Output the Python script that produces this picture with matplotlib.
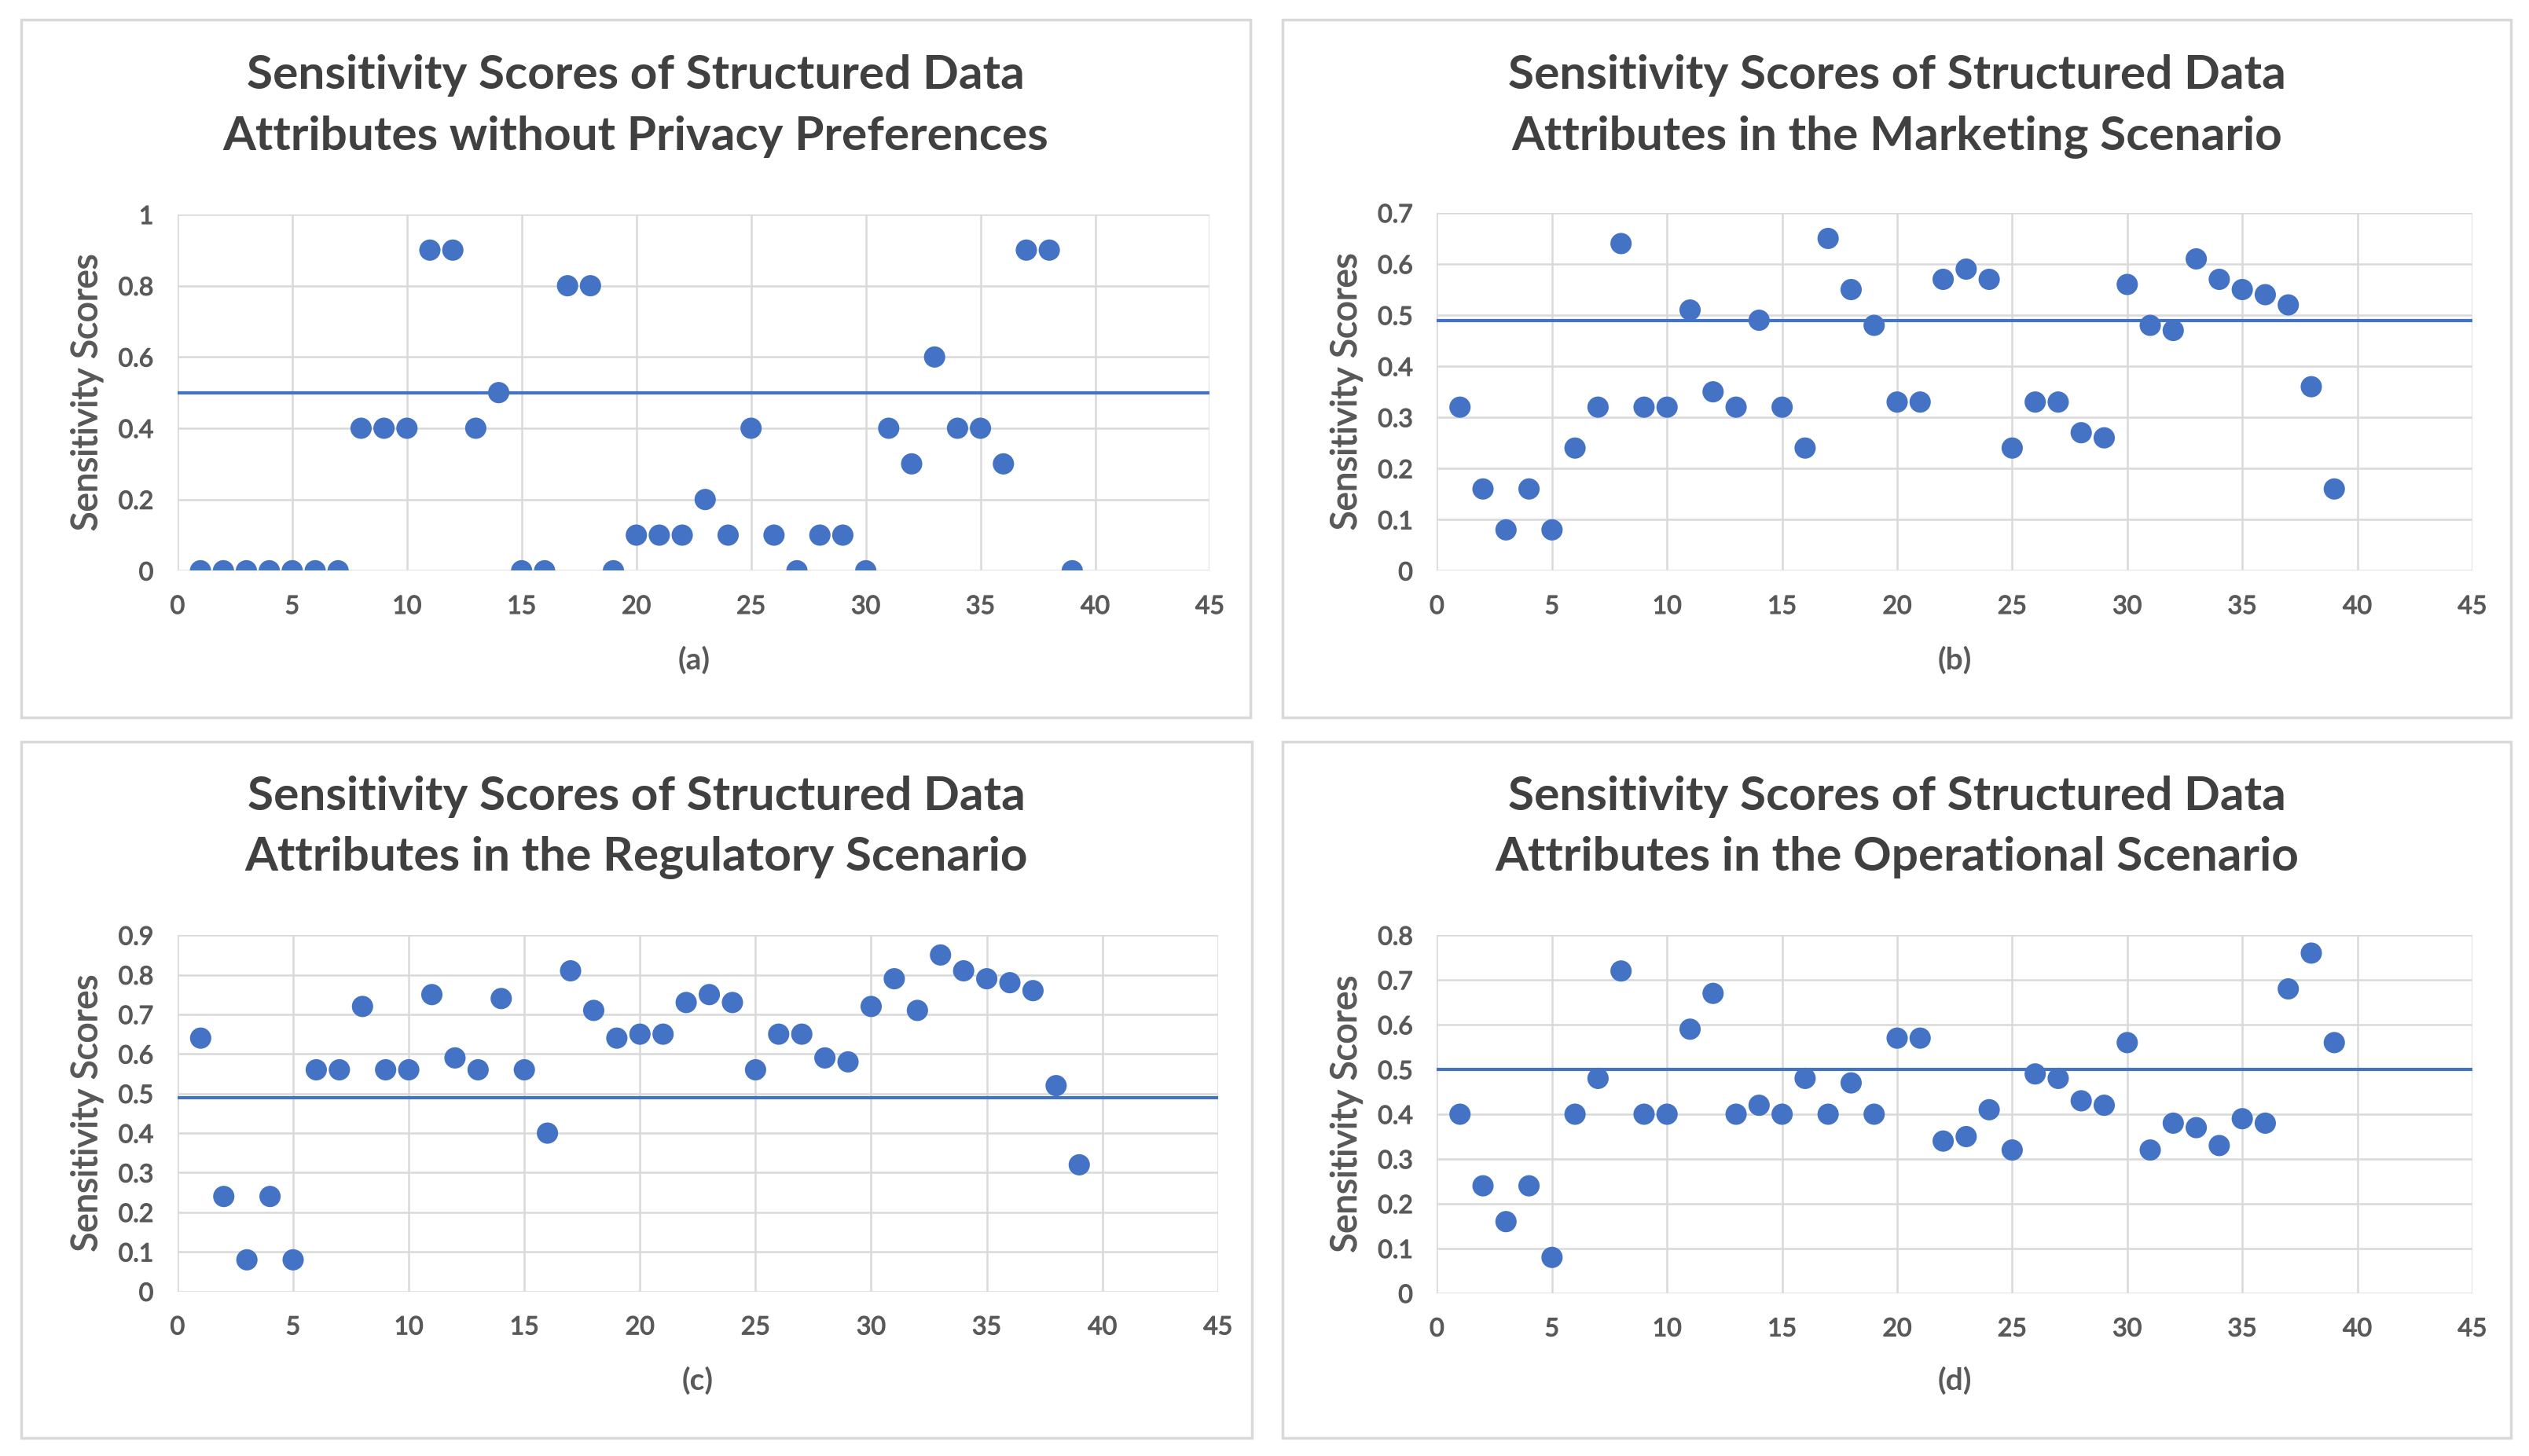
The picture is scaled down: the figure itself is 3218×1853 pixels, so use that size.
import matplotlib.pyplot as plt
import matplotlib.patheffects as pe
from matplotlib.patches import Rectangle
from matplotlib.ticker import MultipleLocator, FuncFormatter

plt.rcParams['font.family'] = ['Lato', 'DejaVu Sans']

attributes = list(range(1, 40))

scores_a = [0, 0, 0, 0, 0, 0, 0, 0.4, 0.4, 0.4,
            0.9, 0.9, 0.4, 0.5, 0, 0, 0.8, 0.8, 0, 0.1,
            0.1, 0.1, 0.2, 0.1, 0.4, 0.1, 0, 0.1, 0.1, 0,
            0.4, 0.3, 0.6, 0.4, 0.4, 0.3, 0.9, 0.9, 0]
scores_b = [0.32, 0.16, 0.08, 0.16, 0.08, 0.24, 0.32, 0.64, 0.32, 0.32,
            0.51, 0.35, 0.32, 0.49, 0.32, 0.24, 0.65, 0.55, 0.48, 0.33,
            0.33, 0.57, 0.59, 0.57, 0.24, 0.33, 0.33, 0.27, 0.26, 0.56,
            0.48, 0.47, 0.61, 0.57, 0.55, 0.54, 0.52, 0.36, 0.16]
scores_c = [0.64, 0.24, 0.08, 0.24, 0.08, 0.56, 0.56, 0.72, 0.56, 0.56,
            0.75, 0.59, 0.56, 0.74, 0.56, 0.40, 0.81, 0.71, 0.64, 0.65,
            0.65, 0.73, 0.75, 0.73, 0.56, 0.65, 0.65, 0.59, 0.58, 0.72,
            0.79, 0.71, 0.85, 0.81, 0.79, 0.78, 0.76, 0.52, 0.32]
scores_d = [0.40, 0.24, 0.16, 0.24, 0.08, 0.40, 0.48, 0.72, 0.40, 0.40,
            0.59, 0.67, 0.40, 0.42, 0.40, 0.48, 0.40, 0.47, 0.40, 0.57,
            0.57, 0.34, 0.35, 0.41, 0.32, 0.49, 0.48, 0.43, 0.42, 0.56,
            0.32, 0.38, 0.37, 0.33, 0.39, 0.38, 0.68, 0.76, 0.56]

thresholds = [0.5, 0.49, 0.49, 0.5]
y_max = [1.0, 0.7, 0.9, 0.8]
y_step = [0.2, 0.1, 0.1, 0.1]

titles = [
    ("Sensitivity Scores of Structured Data", "Attributes without Privacy Preferences"),
    ("Sensitivity Scores of Structured Data", "Attributes in the Marketing Scenario"),
    ("Sensitivity Scores of Structured Data", "Attributes in the Regulatory Scenario"),
    ("Sensitivity Scores of Structured Data", "Attributes in the Operational Scenario"),
]
sublabels = ["(a)", "(b)", "(c)", "(d)"]
all_scores = [scores_a, scores_b, scores_c, scores_d]

blue = '#4472C4'
grid_col = '#D9D9D9'
text_col = '#595959'
title_col = '#404040'

# slight stroke so the regular face looks a bit heavier, like the original
thick = [pe.withStroke(linewidth=0.9, foreground=text_col)]

fig = plt.figure(figsize=(32.18, 18.53), dpi=100)

# axes positions [left, bottom, width, height] and chart-area frames
ax_pos = [
    [0.0702, 0.608, 0.4082, 0.2447],
    [0.5682, 0.608, 0.4094, 0.2458],
    [0.0702, 0.1130, 0.4114, 0.2447],
    [0.5682, 0.1118, 0.4094, 0.2459],
]
frames = [
    [0.0083, 0.5072, 0.4860, 0.4795],
    [0.5070, 0.5072, 0.4860, 0.4795],
    [0.0083, 0.0122, 0.4866, 0.4784],
    [0.5070, 0.0122, 0.4860, 0.4784],
]
title_y = [(0.948, 0.906), (0.948, 0.906), (0.453, 0.411), (0.453, 0.411)]
sub_y = [0.547, 0.547, 0.052, 0.052]

for i in range(4):
    fl, fb, fw, fh = frames[i]
    fig.patches.append(Rectangle((fl, fb), fw, fh, transform=fig.transFigure,
                                 fill=False, edgecolor=grid_col, lw=2.5))

    ax = fig.add_axes(ax_pos[i])
    ax.scatter(attributes, all_scores[i], s=380, color=blue, zorder=3,
               edgecolors='none')
    ax.axhline(thresholds[i], color=blue, lw=3, zorder=2)

    ax.set_xlim(0, 45)
    ax.set_ylim(0, y_max[i])
    ax.xaxis.set_major_locator(MultipleLocator(5))
    ax.yaxis.set_major_locator(MultipleLocator(y_step[i]))
    ax.yaxis.set_major_formatter(FuncFormatter(lambda v, p: f"{v:.1f}".rstrip('0').rstrip('.') if v else "0"))
    ax.grid(True, color=grid_col, lw=1.8, zorder=0)
    ax.set_axisbelow(True)
    for sp in ax.spines.values():
        sp.set_visible(False)
    ax.tick_params(length=0, labelsize=23, labelcolor=text_col)
    ax.tick_params(axis='y', pad=22)
    ax.tick_params(axis='x', pad=22)
    for lab in ax.get_xticklabels() + ax.get_yticklabels():
        lab.set_path_effects(thick)

    ax.set_ylabel("Sensitivity Scores", fontsize=33, color=text_col,
                  labelpad=14, path_effects=thick)

    cx = fl + fw / 2
    for line, ty in zip(titles[i], title_y[i]):
        fig.text(cx, ty, line, ha='center', va='center',
                 fontsize=43.5, fontweight='bold', color=title_col)
    axc = ax_pos[i][0] + ax_pos[i][2] / 2
    fig.text(axc, sub_y[i], sublabels[i], ha='center', va='center',
             fontsize=28, fontweight='bold', color=text_col)

fig.savefig("out.png", dpi=100, facecolor='white')
